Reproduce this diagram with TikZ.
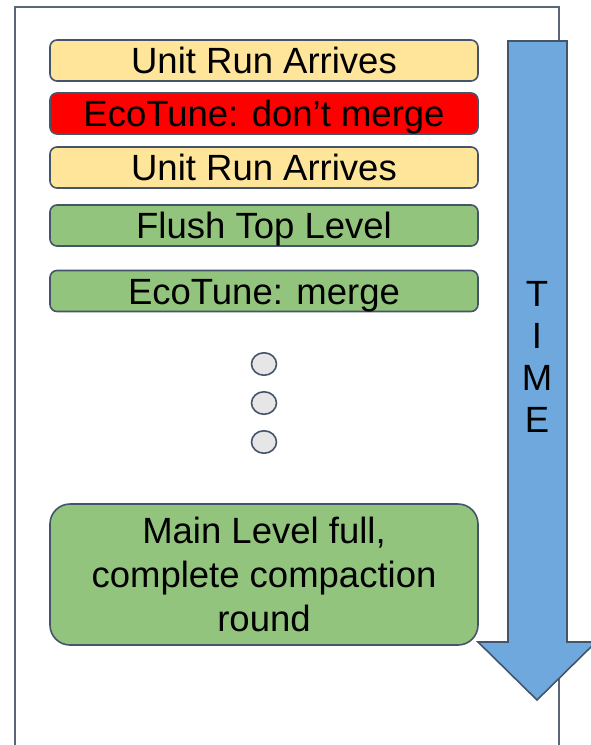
\documentclass[tikz,border=0pt]{standalone}
\usepackage{fontspec}
\setmainfont{Liberation Sans}
\definecolor{bordc}{HTML}{44546A}
\definecolor{framec}{HTML}{5B6578}
\definecolor{yel}{HTML}{FFE599}
\definecolor{redc}{HTML}{FF0000}
\definecolor{grn}{HTML}{93C47D}
\definecolor{blu}{HTML}{6FA8DC}
\definecolor{circc}{HTML}{E6E6E6}
\tikzset{
  evbox/.style={draw=bordc, line width=1.6pt, rounded corners=7pt, minimum width=428pt, minimum height=41pt, inner sep=0pt, font=\fontsize{36.5}{44}\selectfont, text height=26.5pt, text depth=0pt},
  dotc/.style={draw=bordc, fill=circc, line width=1.6pt, ellipse, minimum width=25pt, minimum height=22.5pt, inner sep=0pt},
}
\usetikzlibrary{shapes.geometric}
\begin{document}
\begin{tikzpicture}[x=1pt,y=-1pt]
\useasboundingbox (0,0) rectangle (591,745);
% outer frame
\draw[framec, line width=1.4pt] (15,745) -- (15,7) -- (559,7) -- (559,745);
% time arrow
\draw[bordc, fill=blu, line width=1.6pt] (508,41) -- (567,41) -- (567,642) -- (596,642) -- (537,700) -- (478,642) -- (508,642) -- cycle;
\node[font=\fontsize{36.5}{42}\selectfont, align=center] (time) at (537,357) {T\\I\\M\\E};
% events
\node[evbox, fill=yel] (b1) at (264,60.5) {Unit Run Arrives};
\node[evbox, fill=redc] (b2) at (264,113.5) {EcoTune: don’t merge};
\node[evbox, fill=yel] (b3) at (264,167.5) {Unit Run Arrives};
\node[evbox, fill=grn] (b4) at (264,225.5) {Flush Top Level};
\node[evbox, fill=grn] (b5) at (264,291) {EcoTune: merge};
\node[dotc] (d1) at (264,364) {};
\node[dotc] (d2) at (264,403) {};
\node[dotc] (d3) at (264,442) {};
\node[draw=bordc, line width=1.6pt, rounded corners=20pt, fill=grn, minimum width=428pt, minimum height=141pt, inner sep=0pt] (b6) at (264,574.5) {};
\node[font=\fontsize{36.5}{44}\selectfont, align=center, inner sep=0pt] (t6) at (b6.center) {Main Level full,\\complete compaction\\round};
\end{tikzpicture}
\end{document}
